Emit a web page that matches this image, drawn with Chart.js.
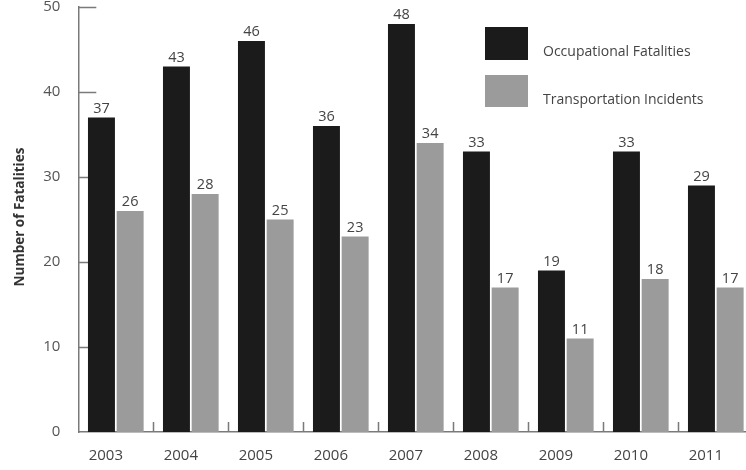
<!DOCTYPE html>
<html>
<head>
<meta charset="utf-8">
<script src="https://cdn.jsdelivr.net/npm/chart.js@4.4.1/dist/chart.umd.min.js"></script>
<style>
  html, body { margin: 0; padding: 0; background: #fff; overflow: hidden; width: 746px; height: 470px; }
  canvas { display: block; }
</style>
</head>
<body>
<canvas id="c" width="760" height="470"></canvas>
<script>
// Fatalities per year
const years = ['2003', '2004', '2005', '2006', '2007', '2008', '2009', '2010', '2011'];
const occupationalFatalities = [37, 43, 46, 36, 48, 33, 19, 33, 29];
const transportationIncidents = [26, 28, 25, 23, 34, 17, 11, 18, 17];
const yTickValues = [0, 10, 20, 30, 40, 50];
const seriesNames = ['Occupational Fatalities', 'Transportation Incidents'];
const yAxisTitle = 'Number of Fatalities';

const FONT = '"Open Sans", "DejaVu Sans", sans-serif';
const AXIS_COLOR = '#7a7a7a';
const TEXT_COLOR = '#444';

// short tick marks drawn inside the plot, behind the bars
const innerTicks = {
  id: 'innerTicks',
  beforeDatasetsDraw(chart) {
    const { ctx, chartArea, scales: { x, y } } = chart;
    ctx.save();
    ctx.strokeStyle = AXIS_COLOR;
    ctx.lineWidth = 1.5;
    ctx.beginPath();
    yTickValues.forEach(v => {
      if (v === 0) return;
      const py = Math.round(y.getPixelForValue(v)) + 0.5;
      ctx.moveTo(chartArea.left, py);
      ctx.lineTo(chartArea.left + 18, py);
    });
    const n = years.length;
    for (let i = 1; i <= n; i++) {
      const a = x.getPixelForValue(i - 1);
      const b = i < n ? x.getPixelForValue(i) : a + (a - x.getPixelForValue(i - 2));
      const px = Math.round((a + b) / 2) + 0.5;
      ctx.moveTo(px, chartArea.bottom);
      ctx.lineTo(px, chartArea.bottom - 10);
    }
    ctx.stroke();
    ctx.restore();
  }
};

// value printed above every bar
const valueLabels = {
  id: 'valueLabels',
  afterDatasetsDraw(chart) {
    const { ctx } = chart;
    ctx.save();
    ctx.font = '14.5px ' + FONT;
    ctx.fillStyle = TEXT_COLOR;
    ctx.textAlign = 'center';
    ctx.textBaseline = 'alphabetic';
    chart.data.datasets.forEach((ds, di) => {
      chart.getDatasetMeta(di).data.forEach((bar, i) => {
        ctx.fillText(String(ds.data[i]), bar.x, bar.y - 5);
      });
    });
    ctx.restore();
  }
};

// legend boxes with labels, plus the rotated y-axis title
const sideText = {
  id: 'sideText',
  afterDraw(chart) {
    const { ctx } = chart;
    ctx.save();
    const boxes = [{ y: 27, h: 33, ty: 52 }, { y: 75, h: 32, ty: 100 }];
    chart.data.datasets.forEach((ds, i) => {
      const b = boxes[i];
      ctx.fillStyle = ds.backgroundColor;
      ctx.fillRect(485, b.y, 43, b.h);
      ctx.fillStyle = TEXT_COLOR;
      ctx.font = '14px ' + FONT;
      ctx.textAlign = 'left';
      ctx.textBaseline = 'middle';
      ctx.fillText(ds.label, 543, b.ty);
    });
    ctx.translate(20, 217);
    ctx.rotate(-Math.PI / 2);
    ctx.font = 'bold 13.5px ' + FONT;
    ctx.fillStyle = '#333';
    ctx.textAlign = 'center';
    ctx.textBaseline = 'middle';
    ctx.fillText(yAxisTitle, 0, 0);
    ctx.restore();
  }
};

new Chart(document.getElementById('c'), {
  type: 'bar',
  data: {
    labels: years,
    datasets: [
      { label: seriesNames[0], data: occupationalFatalities, backgroundColor: '#1b1b1b' },
      { label: seriesNames[1], data: transportationIncidents, backgroundColor: '#9b9b9b' }
    ]
  },
  options: {
    responsive: false,
    animation: false,
    devicePixelRatio: 1,
    categoryPercentage: 0.765,
    barPercentage: 0.94,
    layout: { autoPadding: false, padding: { top: 7, right: 6.7, left: 0, bottom: 0 } },
    plugins: { legend: { display: false }, tooltip: { enabled: false } },
    scales: {
      x: {
        offset: true,
        grid: { display: false, drawTicks: false },
        border: { display: true, color: AXIS_COLOR, width: 1.5 },
        ticks: { font: { family: FONT, size: 15 }, color: TEXT_COLOR, padding: 15, labelOffset: -10, maxRotation: 0 },
        afterFit(s) { s.height = 38; s.paddingLeft = 0; s.paddingRight = 0; }
      },
      y: {
        min: 0,
        max: 50,
        grid: { display: false, drawTicks: false },
        border: { display: true, color: AXIS_COLOR, width: 1.5 },
        ticks: { stepSize: 10, font: { family: FONT, size: 15 }, color: '#555', padding: 18 },
        afterFit(s) { s.width = 78.3; s.paddingTop = 0; s.paddingBottom = 0; }
      }
    }
  },
  plugins: [innerTicks, valueLabels, sideText]
});
</script>
</body>
</html>
